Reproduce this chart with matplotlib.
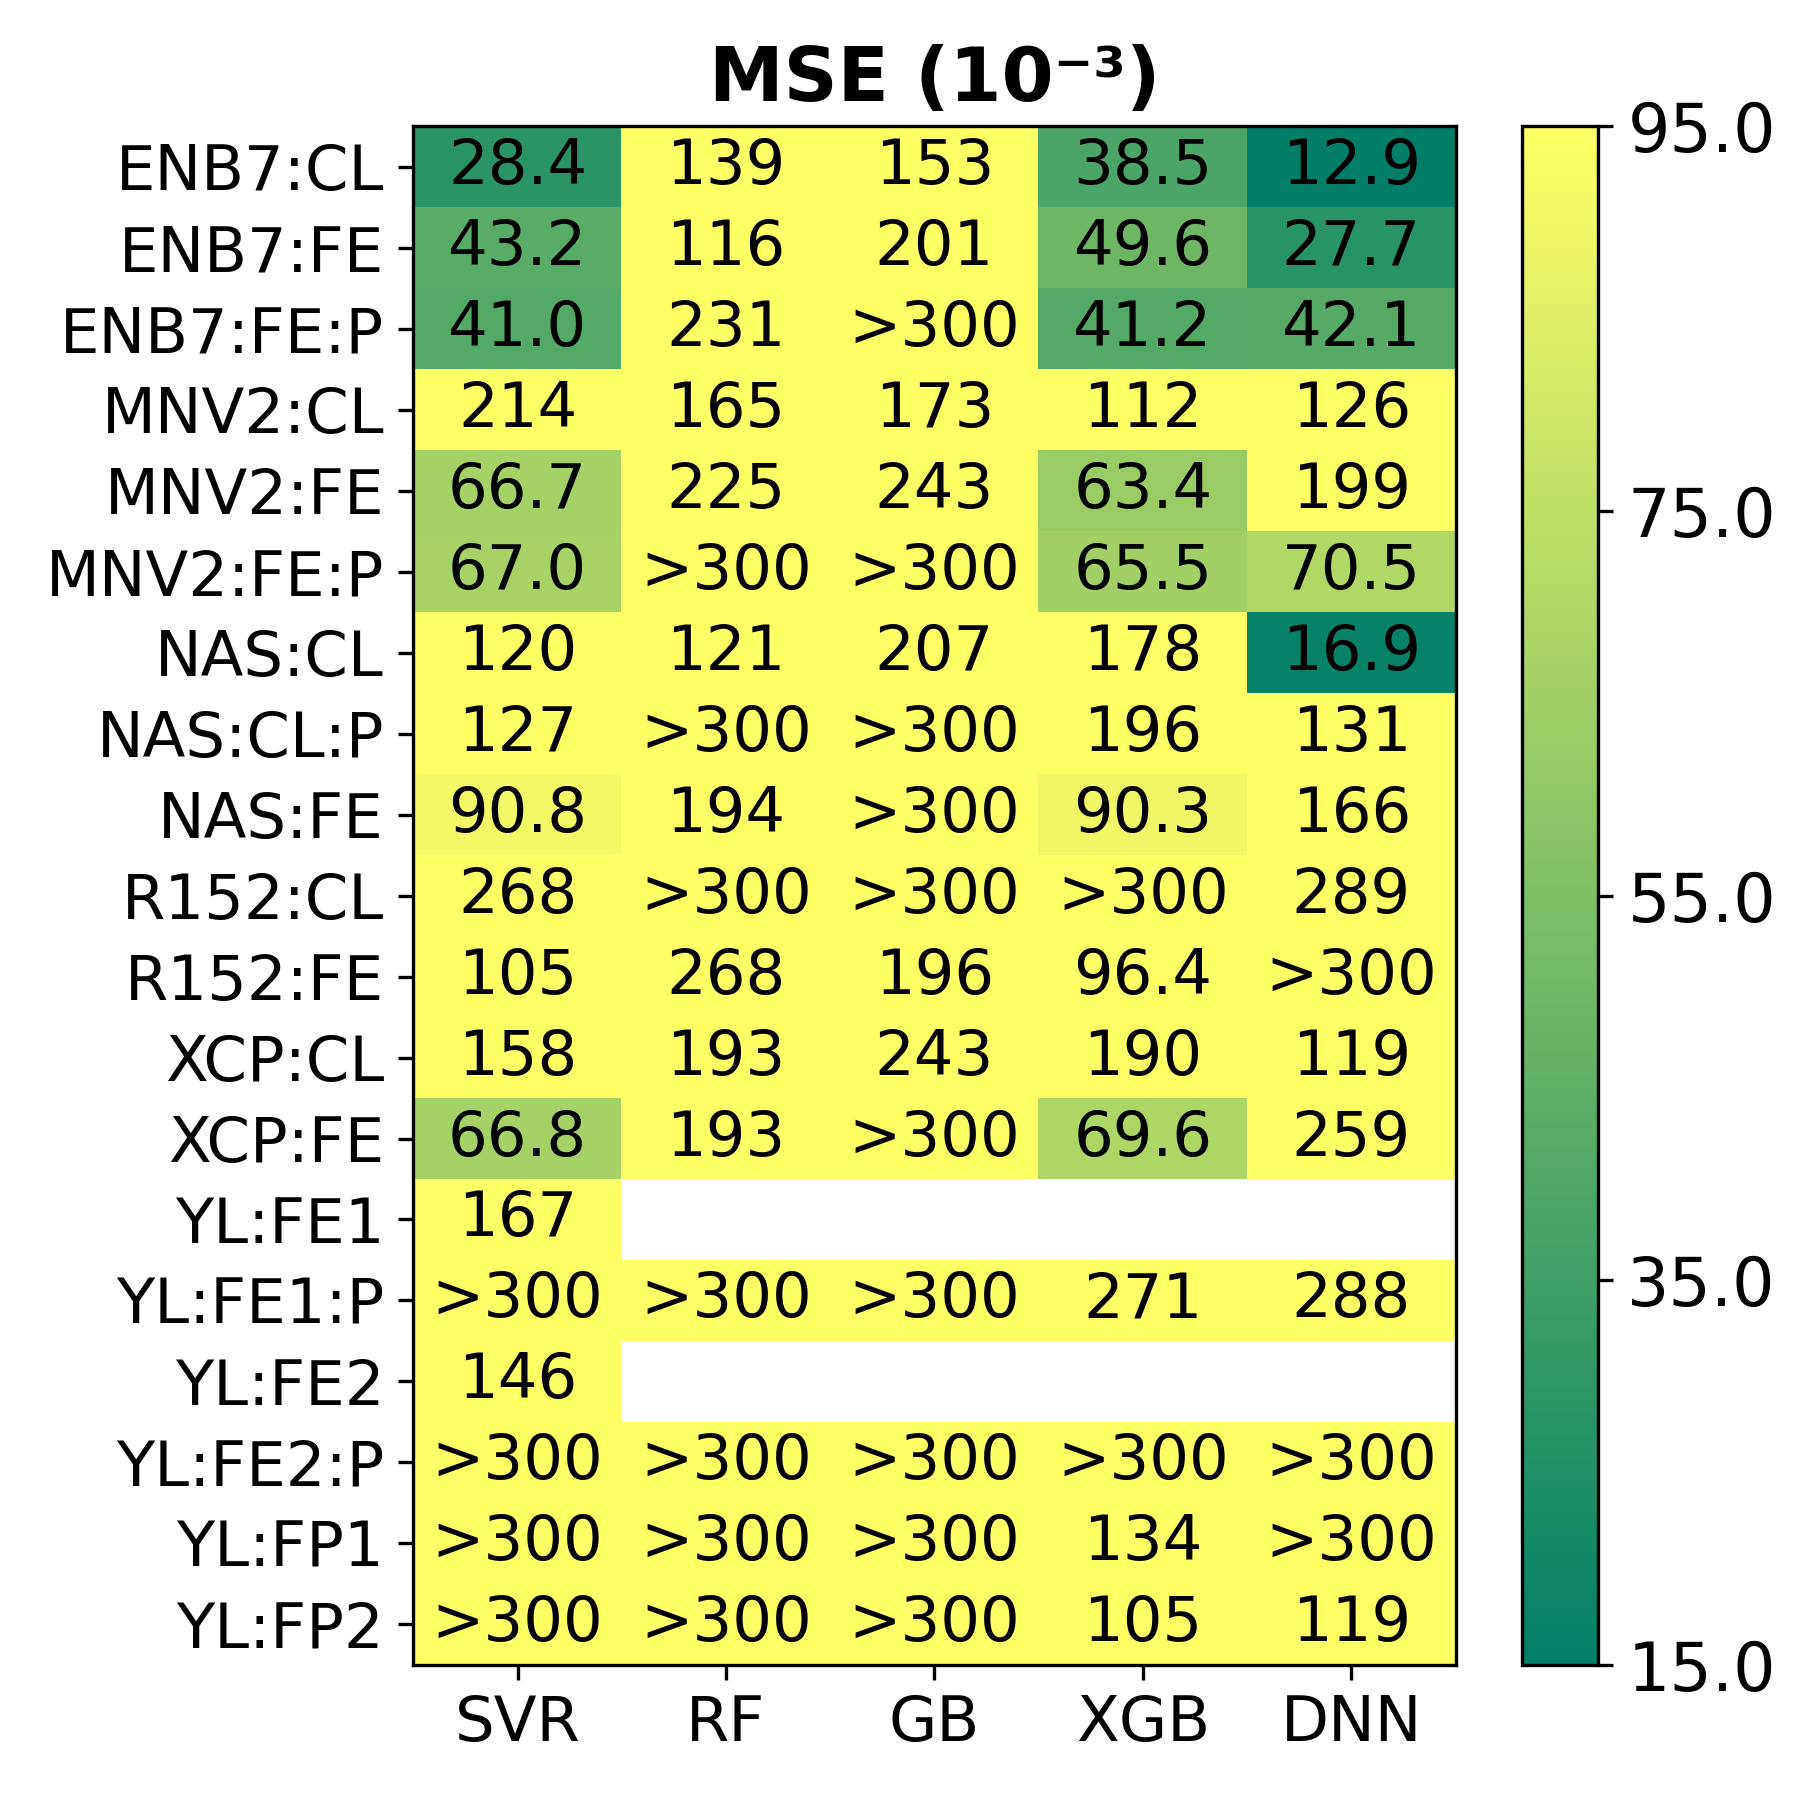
import numpy as np
import matplotlib
matplotlib.use("Agg")
import matplotlib.pyplot as plt

rows = ["ENB7:CL", "ENB7:FE", "ENB7:FE:P", "MNV2:CL", "MNV2:FE", "MNV2:FE:P",
        "NAS:CL", "NAS:CL:P", "NAS:FE", "R152:CL", "R152:FE", "XCP:CL", "XCP:FE",
        "YL:FE1", "YL:FE1:P", "YL:FE2", "YL:FE2:P", "YL:FP1", "YL:FP2"]
models = ["SVR", "RF", "GB", "XGB", "DNN"]

INF = np.inf   # shown as ">300"
NA = np.nan    # no result

svr = [28.4, 43.2, 41.0, 214, 66.7, 67.0, 120, 127, 90.8, 268, 105, 158, 66.8, 167, INF, 146, INF, INF, INF]
rf = [139, 116, 231, 165, 225, INF, 121, INF, 194, INF, 268, 193, 193, NA, INF, NA, INF, INF, INF]
gb = [153, 201, INF, 173, 243, INF, 207, INF, INF, INF, 196, 243, INF, NA, INF, NA, INF, INF, INF]
xgb = [38.5, 49.6, 41.2, 112, 63.4, 65.5, 178, 196, 90.3, INF, 96.4, 190, 69.6, NA, 271, NA, INF, 134, 105]
dnn = [12.9, 27.7, 42.1, 126, 199, 70.5, 16.9, 131, 166, 289, INF, 119, 259, NA, 288, NA, INF, INF, 119]

vals = np.array([svr, rf, gb, xgb, dnn], dtype=float).T


def label(v):
    if np.isinf(v):
        return ">300"
    if v >= 100:
        return "%d" % v
    return "%.1f" % v


fig = plt.figure(figsize=(6, 6), dpi=300)
ax = fig.add_axes([0.2296, 0.0751, 0.5791, 0.8547])
cax = fig.add_axes([0.8457, 0.0751, 0.0422, 0.8547])

# >300 cells are just saturated yellow
colour_vals = np.where(np.isinf(vals), 300.0, vals)
im = ax.imshow(colour_vals, cmap="summer", vmin=15, vmax=95, aspect="auto")

for i in range(len(rows)):
    for j in range(len(models)):
        v = vals[i, j]
        if np.isnan(v):
            continue
        ax.text(j, i, label(v), ha="center", va="center", fontsize=15, color="black")

ax.set_xticks(range(len(models)))
ax.set_xticklabels(models, fontsize=15)
ax.set_yticks(range(len(rows)))
ax.set_yticklabels(rows, fontsize=15)
ax.set_title("MSE (10\u207b\u00b3)", fontsize=18, fontweight="bold")

cb = fig.colorbar(im, cax=cax, ticks=[15, 35, 55, 75, 95], format="%.1f")
cb.ax.tick_params(labelsize=16)

fig.savefig("out.png", dpi=300)
